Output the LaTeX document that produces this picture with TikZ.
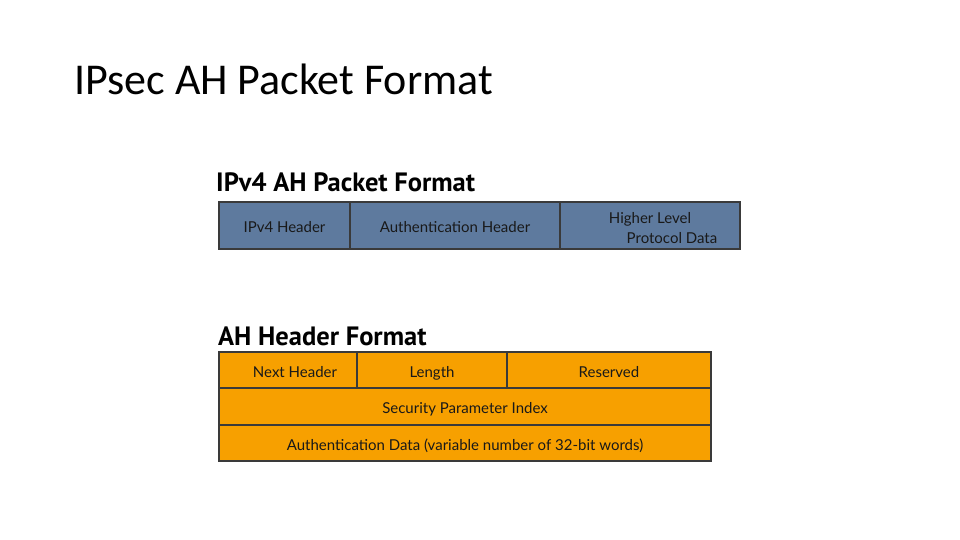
\documentclass[tikz,border=0pt]{standalone}
\usepackage{fontspec}
\setmainfont{Carlito}
\newfontfamily\gillfont{Lato}
\newfontfamily\headfont{PT Sans}
\usetikzlibrary{positioning}
\definecolor{ahblue}{HTML}{5E7A9E}
\definecolor{ahorange}{HTML}{F7A000}
\definecolor{cellline}{HTML}{3A3A3A}
\tikzset{
  cell/.style={draw=cellline, line width=1.2pt, inner sep=0pt, outer sep=0pt,
    anchor=north west, text=black!90, text height=14pt, text depth=0pt,
    font=\gillfont\fontsize{15}{18}\selectfont},
  bluecell/.style={cell, fill=ahblue, minimum height=47pt},
  orangecell/.style={cell, fill=ahorange, minimum height=36pt},
  heading/.style={anchor=south west, inner sep=0pt, font=\headfont\bfseries\fontsize{26.5}{30}\selectfont},
}
\begin{document}
\begin{tikzpicture}[x=1pt, y=-1pt]
  \useasboundingbox[fill=white] (0,0) rectangle (960,540);
  % ===== slide title =====
  \node[anchor=base west, inner sep=0pt, font=\fontsize{44}{48}\selectfont] (title) at (74,95) {IPsec AH Packet Format};

  % ===== IPv4 packet =====
  \node[heading] (pkthead) at (216,192) {IPv4 AH Packet Format};
  \node[bluecell, minimum width=131pt] (ipv4) at (219,202) {IPv4 Header};
  \node[bluecell, minimum width=210pt, right=0pt of ipv4] (auth) {Authentication Header};
  \node[bluecell, minimum width=180pt, right=0pt of auth] (upper) {};
  \node[align=center, inner sep=0pt, text=black!90, yshift=-2.5pt,
    font=\gillfont\fontsize{15}{20}\selectfont] (upperlbl) at (upper.center)
    {Higher Level\\\hspace*{44pt}Protocol Data};

  % ===== AH header =====
  \node[heading] (ahhead) at (218,346) {AH Header Format};
  \node[orangecell, minimum width=138pt] (next) at (219,352) {\hspace*{14pt}Next Header};
  \node[orangecell, minimum width=150pt, right=0pt of next] (len) {Length};
  \node[orangecell, minimum width=204pt, right=0pt of len] (res) {Reserved};
  \node[orangecell, minimum width=492pt, minimum height=37pt] (spi) at (219,388) {Security Parameter Index};
  \node[orangecell, minimum width=492pt] (adata) at (219,425) {Authentication Data (variable number of 32-bit words)};
\end{tikzpicture}
\end{document}
